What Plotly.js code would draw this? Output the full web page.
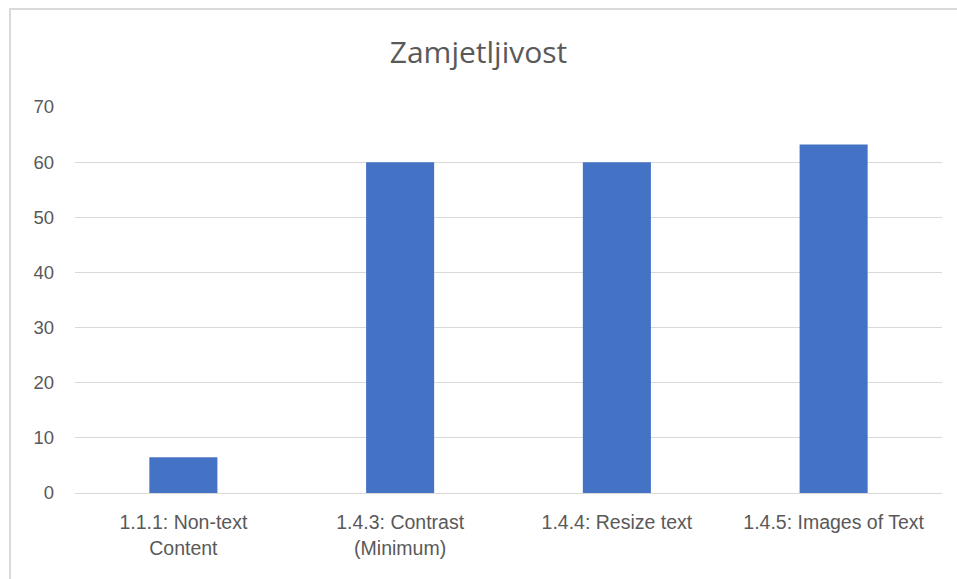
<!DOCTYPE html>
<html>
<head>
<meta charset="utf-8">
<script src="https://cdn.plot.ly/plotly-3.0.1.min.js"></script>
<style>
body{margin:0;padding:0;background:#fff;}
#wrap{position:relative;width:957px;height:579px;}
#chart{width:957px;height:579px;}
#frame{position:absolute;left:9px;top:8px;right:0;bottom:0;border-left:2px solid #d9d9d9;border-top:2px solid #d9d9d9;pointer-events:none;}
</style>
</head>
<body>
<div id="wrap"><div id="chart"></div><div id="frame"></div></div>
<script>
const categories = ["1.1.1: Non-text<br>Content", "1.4.3: Contrast<br>(Minimum)", "1.4.4: Resize text", "1.4.5: Images of Text"];
const values = [6.5, 60, 60, 63.2];
const yTicks = [0, 10, 20, 30, 40, 50, 60, 70];
const chartTitle = "Zamjetljivost";

const fontFam = "Liberation Sans Narrow, Liberation Sans, Arial, sans-serif";

Plotly.newPlot('chart', [{
  type: 'bar',
  x: categories,
  y: values,
  marker: {color: '#4472C4'},
  hoverinfo: 'x+y'
}], {
  width: 957, height: 579,
  margin: {l: 75, r: 15, t: 107, b: 86},
  paper_bgcolor: '#ffffff',
  plot_bgcolor: '#ffffff',
  bargap: 0.686,
  showlegend: false,
  title: {text: chartTitle, x: 0.5, xanchor: 'center', y: 0.91, yanchor: 'middle',
          font: {family: "Open Sans, sans-serif", size: 30, color: '#595959'}},
  xaxis: {
    showgrid: false, zeroline: false, showline: true, linecolor: '#d9d9d9', linewidth: 1,
    ticks: '', tickfont: {family: fontFam, size: 19.5, color: '#595959'},
    ticklabelstandoff: 12, fixedrange: true
  },
  yaxis: {
    range: [0, 70], tickvals: yTicks, ticktext: yTicks.map(String),
    showgrid: true, gridcolor: '#d9d9d9', gridwidth: 1, zeroline: false, showline: false,
    ticks: '', tickfont: {family: fontFam, size: 18.5, color: '#595959'},
    ticklabelstandoff: 20, fixedrange: true
  }
}, {displayModeBar: false, staticPlot: true});
</script>
</body>
</html>
